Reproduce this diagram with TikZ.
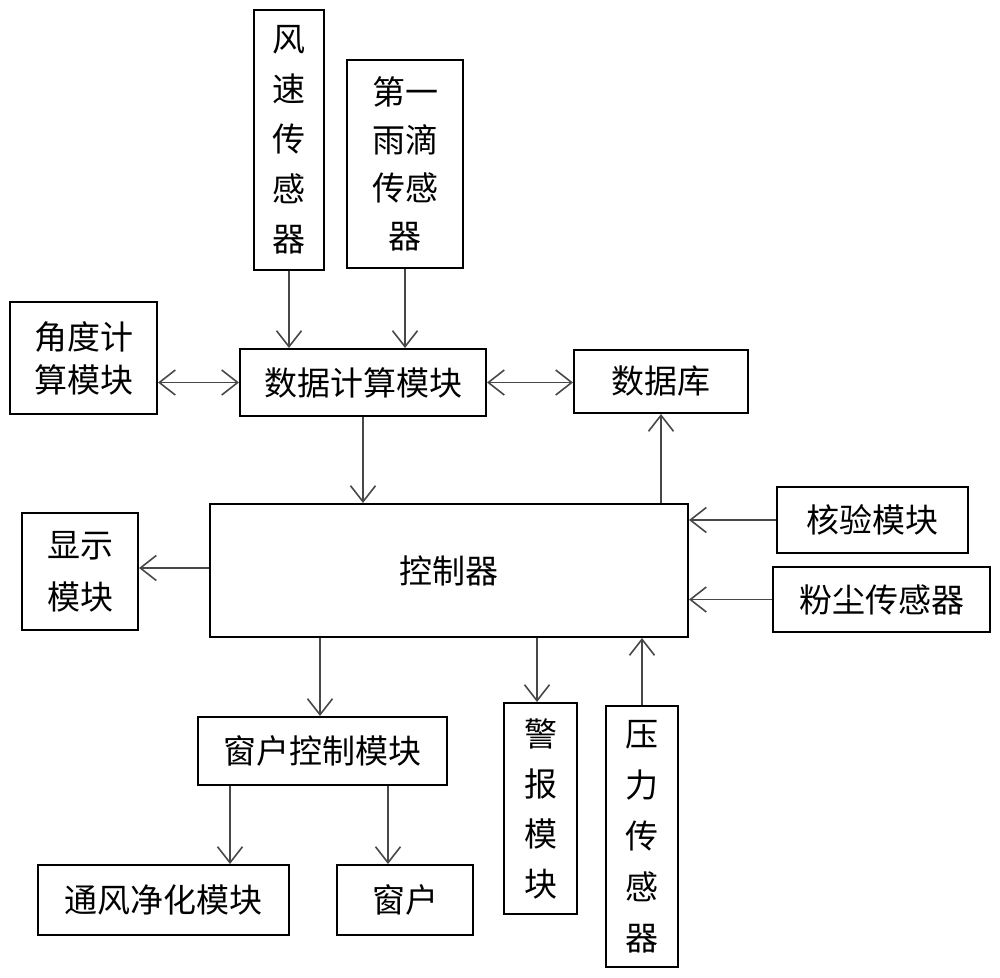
\documentclass[tikz,border=0pt]{standalone}
\usepackage{fontspec}
\setmainfont{Noto Sans CJK SC}
\usetikzlibrary{arrows.meta}
\definecolor{linegray}{HTML}{484848}
\begin{document}
\begin{tikzpicture}[x=1pt,y=-1pt,
  box/.style={draw=black,line width=2pt,fill=white,inner sep=0pt,align=center,
    font=\fontsize{33}{50}\selectfont},
  arr/.style={draw=linegray,line width=1.6pt,-{Straight Barb[length=16pt,width=25pt,line width=1.6pt]}},
  darr/.style={draw=linegray,line width=1.6pt,{Straight Barb[length=16pt,width=25pt,line width=1.6pt]}-{Straight Barb[length=16pt,width=25pt,line width=1.6pt]}}]
\useasboundingbox (0,0) rectangle (1000,977);
\node[box,minimum width=70pt,minimum height=260pt] (fs) at (289,140) {风\\速\\传\\感\\器};
\node[box,minimum width=116pt,minimum height=208pt,font=\fontsize{33}{48}\selectfont] (yd) at (405,164) {第一\\雨滴\\传感\\器};
\node[box,minimum width=147pt,minimum height=112pt,font=\fontsize{33}{43}\selectfont] (jd) at (83.5,358) {角度计\\算模块};
\node[box,minimum width=246pt,minimum height=67pt] (sj) at (363,382.5) {数据计算模块};
\node[box,minimum width=174pt,minimum height=63pt] (db) at (661,381.5) {数据库};
\node[box,minimum width=478pt,minimum height=133pt] (kz) at (449,570.5) {控制器};
\node[box,minimum width=116pt,minimum height=117pt,font=\fontsize{33}{52}\selectfont] (xs) at (80,571.5) {显示\\模块};
\node[box,minimum width=191pt,minimum height=66pt] (hy) at (872.5,520) {核验模块};
\node[box,minimum width=217pt,minimum height=65pt] (fc) at (881.5,599.5) {粉尘传感器};
\node[box,minimum width=249pt,minimum height=68pt] (ck) at (322.5,751) {窗户控制模块};
\node[box,minimum width=73pt,minimum height=211pt] (jb) at (540.5,808.5) {警\\报\\模\\块};
\node[box,minimum width=72pt,minimum height=261pt,font=\fontsize{33}{51}\selectfont] (yl) at (642,836.5) {压\\力\\传\\感\\器};
\node[box,minimum width=251pt,minimum height=70pt] (tf) at (163.5,900) {通风净化模块};
\node[box,minimum width=136pt,minimum height=70pt] (ch) at (405,900) {窗户};
% connectors
\draw[arr] (fs.south) -- (fs.south |- sj.north);
\draw[arr] (yd.south) -- (yd.south |- sj.north);
\draw[darr] (sj.west -| jd.east) -- (sj.west);
\draw[darr] (sj.east) -- (sj.east -| db.west);
\draw[arr] (sj.south) -- (sj.south |- kz.north);
\draw[arr] (db.south |- kz.north) -- (db.south);
\draw[arr] (hy.west) -- (hy.west -| kz.east);
\draw[arr] (fc.west) -- (fc.west -| kz.east);
\draw[arr] (kz.west |- 0,568) -- (xs.east |- 0,568);
\draw[arr] ([xshift=-2.5pt]ck.north |- kz.south) -- ([xshift=-2.5pt]ck.north);
\draw[arr] ([xshift=-3.5pt]jb.north |- kz.south) -- ([xshift=-3.5pt]jb.north);
\draw[arr] (yl.north) -- (yl.north |- kz.south);
\draw[arr] ([xshift=-92.5pt]ck.south) -- ([xshift=-92.5pt]ck.south |- tf.north);
\draw[arr] ([xshift=65.5pt]ck.south) -- ([xshift=65.5pt]ck.south |- ch.north);
\end{tikzpicture}
\end{document}
